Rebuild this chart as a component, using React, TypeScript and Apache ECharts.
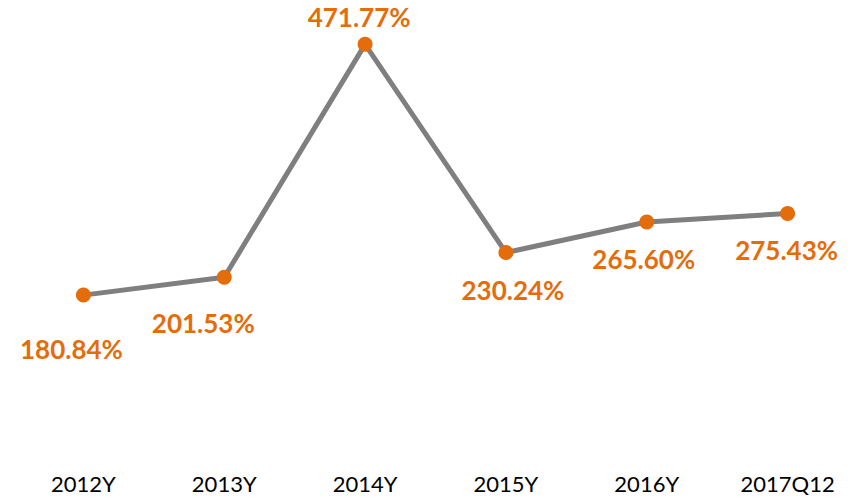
import React, { useEffect, useRef } from "react";
import * as echarts from "echarts";

const categories = ["2012Y", "2013Y", "2014Y", "2015Y", "2016Y", "2017Q12"];
const values = [180.84, 201.53, 471.77, 230.24, 265.6, 275.43];

// label offsets (style only), relative to each marker
const labelOffsets: [number, number][] = [
  [-12, 54],
  [-21, 46],
  [-6, -27],
  [7, 37],
  [-3, 37],
  [-1, 36],
];

export default function App() {
  const ref = useRef<HTMLDivElement>(null);
  useEffect(() => {
    if (!ref.current) return;
    const chart = echarts.init(ref.current, undefined, { renderer: "svg" });
    chart.setOption({
      animation: false,
      backgroundColor: "#ffffff",
      grid: { left: 13, right: -3, top: 20, bottom: 48, containLabel: false },
      xAxis: {
        type: "category",
        data: categories,
        boundaryGap: true,
        axisLine: { show: false },
        axisTick: { show: false },
        axisLabel: {
          margin: 21,
          fontFamily: "Lato",
          fontSize: 22,
          color: "#000000",
        },
      },
      yAxis: {
        type: "value",
        min: 0,
        max: 500,
        show: false,
        splitLine: { show: false },
      },
      series: [
        {
          type: "line",
          data: values.map((v, i) => ({
            value: v,
            label: { offset: labelOffsets[i] },
          })),
          lineStyle: { color: "#7F7F7F", width: 5 },
          symbol: "circle",
          symbolSize: 15,
          itemStyle: { color: "#E46C0A" },
          label: {
            show: true,
            position: "inside",
            formatter: (p: any) => p.value.toFixed(2) + "%",
            fontFamily: "Lato",
            fontWeight: "bold",
            fontSize: 26,
            color: "#E46C0A",
          },
        },
      ],
    });
    return () => chart.dispose();
  }, []);
  return (
    <div
      ref={ref}
      style={{ position: "absolute", left: 0, top: 0, width: 858, height: 499 }}
    />
  );
}
